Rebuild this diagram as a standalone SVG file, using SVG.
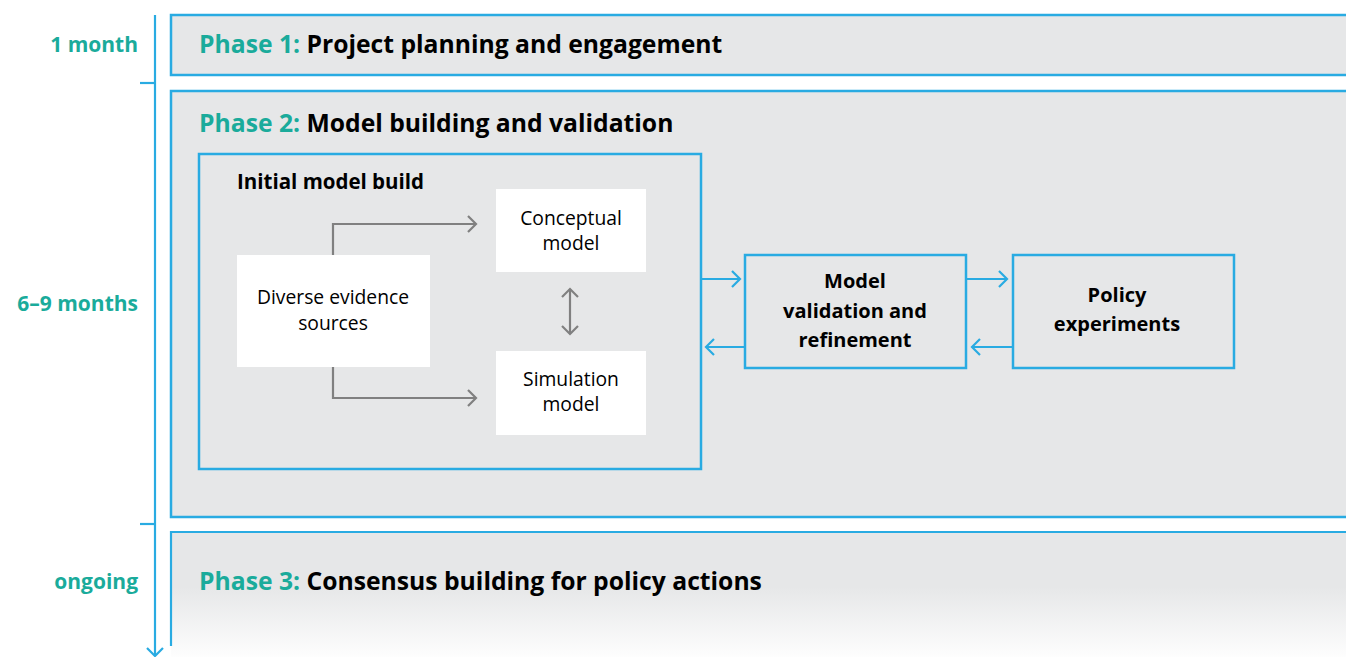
<svg xmlns="http://www.w3.org/2000/svg" width="1346" height="657" viewBox="0 0 1346 657">
<defs>
<style>
.phase{fill:#e6e7e8;stroke:#29abe2;stroke-width:2.5}
.blue{fill:none;stroke:#29abe2;stroke-width:2.5}
.white{fill:#ffffff}
.gline{fill:none;stroke:#808080;stroke-width:2.2}
.bline{fill:none;stroke:#29abe2;stroke-width:2.2}
.time{font-family:"Open Sans","Liberation Sans",sans-serif;font-weight:700;font-size:21px;fill:#1aab9b;text-anchor:end}
.ph{font-family:"Open Sans","Liberation Sans",sans-serif;font-weight:700;font-size:24.7px;fill:#000}
.teal{fill:#1aab9b}
.sub{font-family:"Open Sans","Liberation Sans",sans-serif;font-weight:700;font-size:20.5px;fill:#000}
.norm{font-family:"Open Sans","Liberation Sans",sans-serif;font-size:19.3px;fill:#000;text-anchor:middle}
.bold{font-family:"Open Sans","Liberation Sans",sans-serif;font-weight:700;font-size:20px;fill:#000;text-anchor:middle}
</style>
<linearGradient id="fade" x1="0" y1="0" x2="0" y2="1">
<stop offset="0" stop-color="#e6e7e8"/>
<stop offset="0.42" stop-color="#e6e7e8"/>
<stop offset="1" stop-color="#ffffff"/>
</linearGradient>
</defs>
<rect width="1346" height="657" fill="#ffffff"/>

<g id="timeline">
<line class="bline" x1="155" y1="15" x2="155" y2="656"/>
<line class="bline" x1="140" y1="83" x2="155" y2="83"/>
<line class="bline" x1="140" y1="524" x2="155" y2="524"/>
<polyline class="bline" points="147,648 155,656 163,648"/>
<text class="time" x="138" y="52">1 month</text>
<text class="time" x="138" y="311">6–9 months</text>
<text class="time" x="138" y="589">ongoing</text>
</g>

<g id="phase1">
<rect class="phase" x="171" y="15" width="1190" height="60"/>
<text class="ph" x="199" y="53"><tspan class="teal">Phase 1:</tspan> Project planning and engagement</text>
</g>

<g id="phase2">
<rect class="phase" x="171" y="91" width="1190" height="426"/>
<text class="ph" x="199" y="132"><tspan class="teal">Phase 2:</tspan> Model building and validation</text>
</g>

<g id="phase3">
<rect x="171" y="532" width="1190" height="130" fill="url(#fade)"/>
<line class="bline" x1="171" y1="532" x2="1346" y2="532"/>
<line class="bline" x1="171" y1="531" x2="171" y2="646"/>
<text class="ph" x="199" y="590"><tspan class="teal">Phase 3:</tspan> Consensus building for policy actions</text>
</g>

<g id="initial-build">
<rect class="blue" x="199" y="154" width="502" height="315"/>
<text class="sub" x="237" y="189">Initial model build</text>
</g>

<g id="evidence">
<rect class="white" x="237" y="255" width="193" height="112"/>
<text class="norm" x="333" y="304">Diverse evidence</text>
<text class="norm" x="333" y="330">sources</text>
</g>

<g id="conceptual">
<rect class="white" x="496" y="189" width="150" height="83"/>
<text class="norm" x="571" y="225">Conceptual</text>
<text class="norm" x="571" y="250">model</text>
</g>

<g id="simulation">
<rect class="white" x="496" y="351" width="150" height="84"/>
<text class="norm" x="571" y="386">Simulation</text>
<text class="norm" x="571" y="411">model</text>
</g>

<g id="validation">
<rect class="blue" x="745" y="255" width="221" height="113"/>
<text class="bold" x="855" y="288">Model</text>
<text class="bold" x="855" y="318">validation and</text>
<text class="bold" x="855" y="347">refinement</text>
</g>

<g id="policy">
<rect class="blue" x="1013" y="255" width="221" height="113"/>
<text class="bold" x="1117" y="302">Policy</text>
<text class="bold" x="1117" y="331">experiments</text>
</g>

<g id="connectors">
<polyline class="gline" points="333,255 333,224 476,224"/>
<polyline class="gline" points="468,216 476,224 468,232"/>
<polyline class="gline" points="333,367 333,398 476,398"/>
<polyline class="gline" points="468,390 476,398 468,406"/>
<line class="gline" x1="570" y1="289" x2="570" y2="334"/>
<polyline class="gline" points="562,297 570,289 578,297"/>
<polyline class="gline" points="562,326 570,334 578,326"/>
<line class="bline" x1="701" y1="279" x2="740" y2="279"/>
<polyline class="bline" points="732,271 740,279 732,287"/>
<line class="bline" x1="745" y1="347" x2="706" y2="347"/>
<polyline class="bline" points="714,339 706,347 714,355"/>
<line class="bline" x1="966" y1="279" x2="1007" y2="279"/>
<polyline class="bline" points="999,271 1007,279 999,287"/>
<line class="bline" x1="1013" y1="347" x2="972" y2="347"/>
<polyline class="bline" points="980,339 972,347 980,355"/>
</g>
</svg>
